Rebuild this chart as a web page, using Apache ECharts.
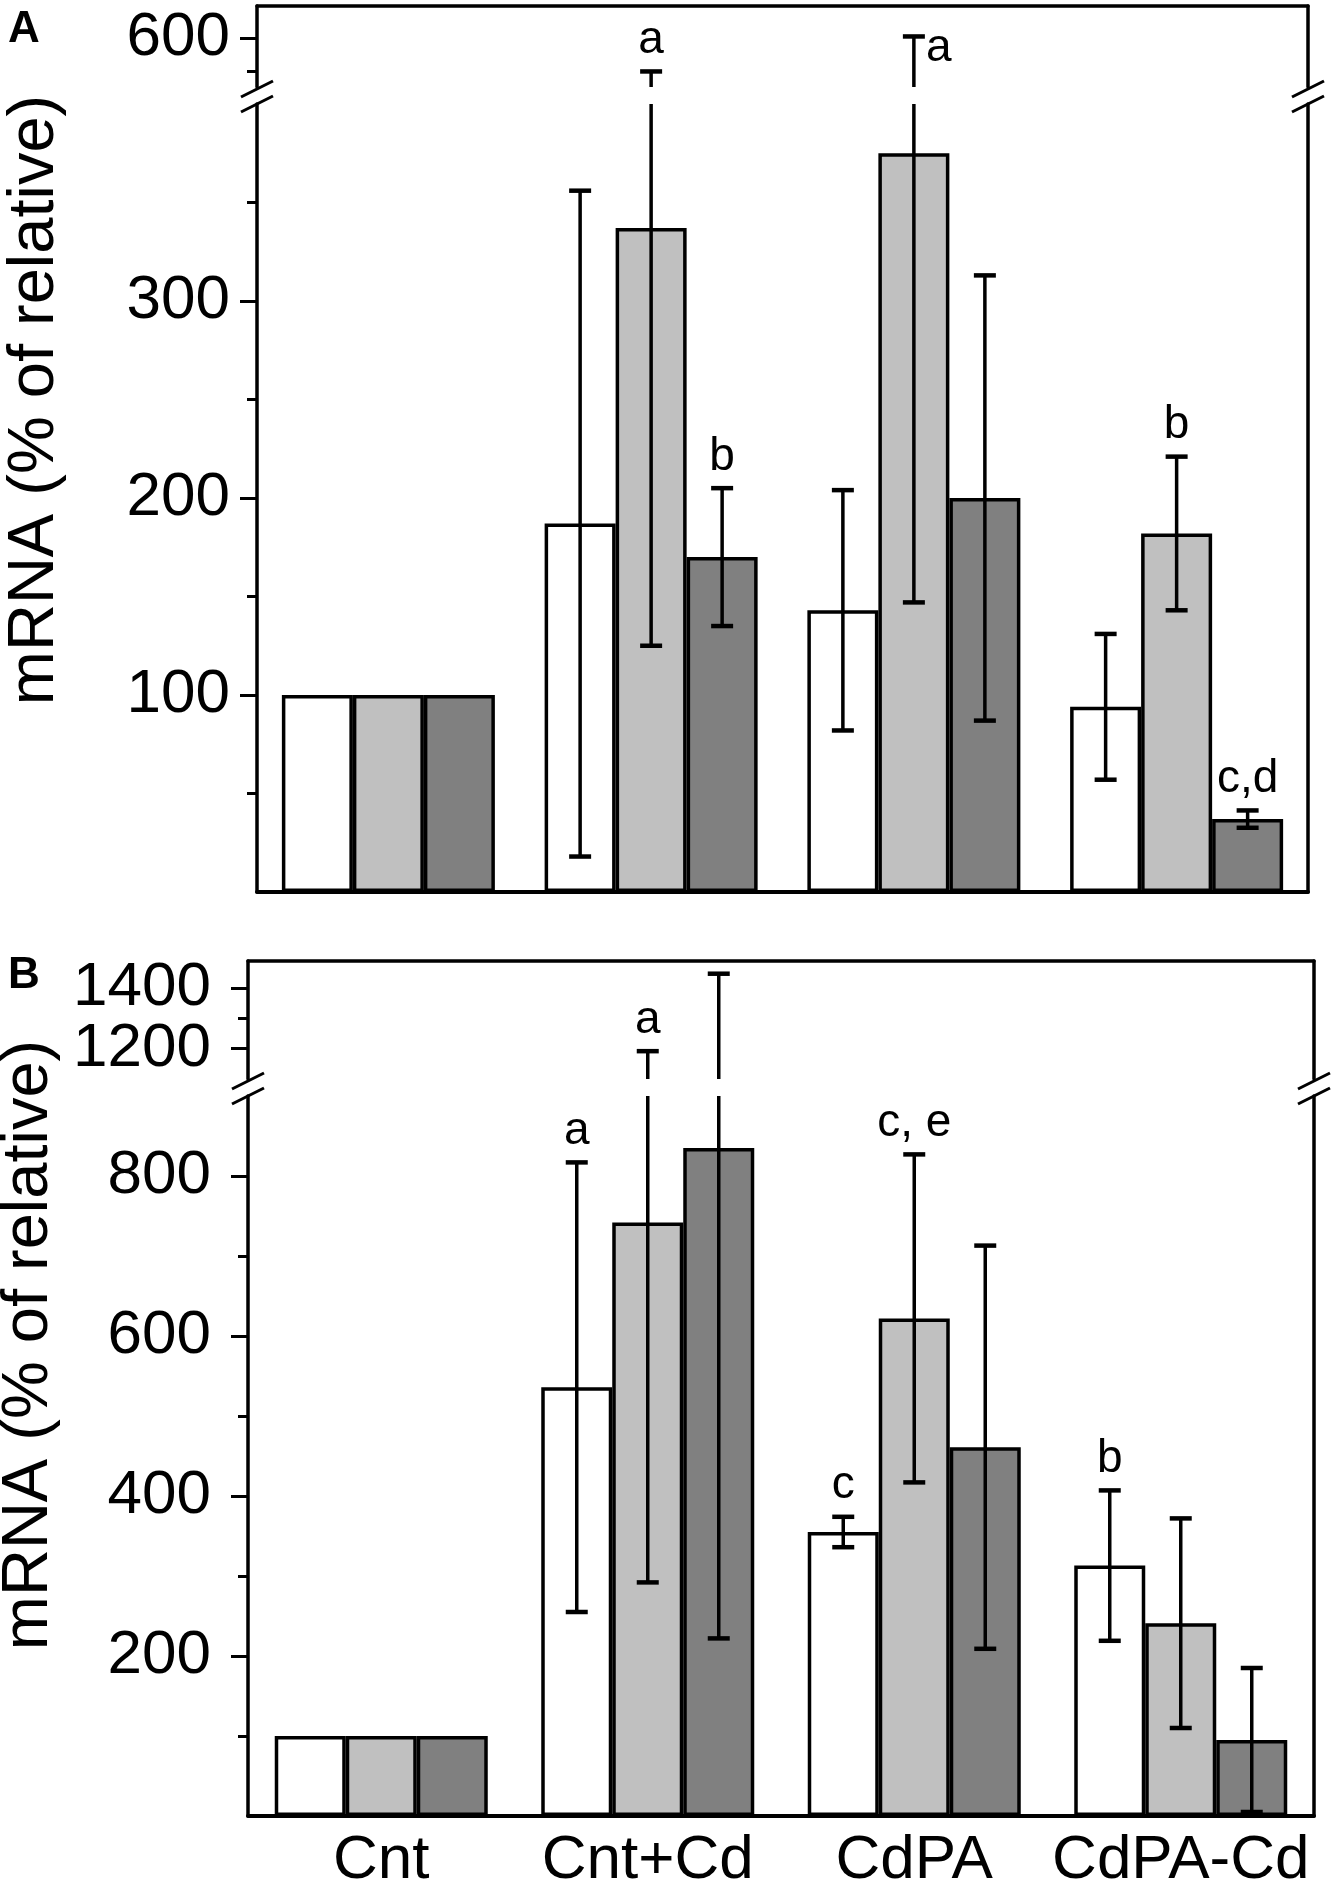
<!DOCTYPE html>
<html><head><meta charset="utf-8">
<script src="https://cdn.jsdelivr.net/npm/echarts@6/dist/echarts.min.js"></script>
<style>html,body{margin:0;padding:0;background:#fff}#c{width:1336px;height:1896px}</style>
</head><body><div id="c"></div>
<script>
// ---------- data ----------
const categories = ['Cnt', 'Cnt+Cd', 'CdPA', 'CdPA-Cd'];
// Panel A
const aWhite   = [100, 187, 143, 94];
const aWhiteSD = [0, 169, 61, 37];
const aLight   = [100, 337, 375, 182];
const aLightSD = [0, 212, 228, 39];
const aDark    = [100, 170, 200, 37];
const aDarkSD  = [0, 35, 113, 4.4];
const aWhiteNote = ['', '', '', ''];
const aLightNote = ['', 'a', 'a', 'b'];
const aDarkNote  = ['', 'b', '', 'c,d'];
// Panel B
const bWhite   = [100, 536, 355, 313];
const bWhiteSD = [0, 281, 19, 94];
const bLight   = [100, 742, 622, 241];
const bLightSD = [0, 450, 205, 131];
const bDark    = [100, 835, 461, 95];
const bDarkSD  = [0, 613, 252, 90];
const bWhiteNote = ['', 'a', 'c', 'b'];
const bLightNote = ['', 'a', 'c, e', ''];
const bDarkNote  = ['', '', '', ''];
// broken-axis segments and tick labels
const aLowerRange = [0, 400],  aUpperRange = [525, 650];
const bLowerRange = [0, 900],  bUpperRange = [1100, 1490];
const aLowerTicks = [100, 200, 300],       aLowerMinor = [50, 150, 250, 350];
const aUpperTicks = [600],                 aUpperMinor = [550];
const bLowerTicks = [200, 400, 600, 800],  bLowerMinor = [100, 300, 500, 700];
const bUpperTicks = [1200, 1400],          bUpperMinor = [1300];
const yTitle = 'mRNA (% of relative)';

// ---------- layout / style ----------
const FONT = '"Liberation Sans", Arial, Helvetica, sans-serif';
const BAR_W = 71;
const LW = 3.5;
const COLORS = ['#ffffff', '#c0c0c0', '#808080'];
const GRIDS = [
  {left: 257, right: 28, top: 6,    height: 81},   // A upper
  {left: 257, right: 28, top: 104,  height: 788},  // A lower
  {left: 248, right: 22, top: 961,  height: 118},  // B upper
  {left: 248, right: 22, top: 1096, height: 720}   // B lower
];

function xAxisFor(gi, pos, showLabels) {
  return {
    type: 'category', gridIndex: gi, data: categories, position: pos,
    axisLine: {show: true, onZero: false, lineStyle: {color: '#000', width: pos === 'bottom' ? 4 : LW}},
    axisTick: {show: false},
    axisLabel: {show: showLabels, interval: 0, hideOverlap: false, color: '#000', fontSize: 62, fontFamily: FONT, margin: 14},
    splitLine: {show: false}
  };
}
// y axes of one grid segment: frame line + minor ticks, one labelled axis per major tick, right frame
const yAxes = [];
const yMainIndex = [];
function addYAxes(gi, range, ticks, minor, labelMargin) {
  const base = {type: 'value', gridIndex: gi, min: range[0], max: range[1], splitLine: {show: false}};
  yMainIndex[gi] = yAxes.length;
  yAxes.push(Object.assign({}, base, {
    position: 'left',
    axisLine: {show: true, onZero: false, lineStyle: {color: '#000', width: LW}},
    axisTick: {show: true, length: 10, customValues: minor, lineStyle: {color: '#000', width: 3}},
    axisLabel: {show: false}
  }));
  ticks.forEach(t => {
    yAxes.push(Object.assign({}, base, {
      position: 'left',
      axisLine: {show: false},
      axisTick: {show: true, length: 17, customValues: [t], lineStyle: {color: '#000', width: 3}},
      axisLabel: {show: true, customValues: [t], hideOverlap: false, formatter: v => String(v),
        color: '#000', fontSize: 62, fontFamily: FONT, margin: labelMargin}
    }));
  });
  yAxes.push(Object.assign({}, base, {
    position: 'right',
    axisLine: {show: true, onZero: false, lineStyle: {color: '#000', width: LW}},
    axisTick: {show: false},
    axisLabel: {show: false}
  }));
}
addYAxes(0, aUpperRange, aUpperTicks, aUpperMinor, 27);
addYAxes(1, aLowerRange, aLowerTicks, aLowerMinor, 27);
addYAxes(2, bUpperRange, bUpperTicks, bUpperMinor, 37);
addYAxes(3, bLowerRange, bLowerTicks, bLowerMinor, 37);

function barSeries(gi, values, ci) {
  return {
    type: 'bar', xAxisIndex: gi, yAxisIndex: yMainIndex[gi], data: values,
    barWidth: BAR_W, barGap: '0%', z: 2, silent: true,
    itemStyle: {color: COLORS[ci], borderColor: '#000', borderWidth: LW}
  };
}

function errSeries(gi, values, sds, notes, ci, range, isUpper) {
  const off = (ci - 1) * BAR_W;
  return {
    type: 'custom', xAxisIndex: gi, yAxisIndex: yMainIndex[gi], z: 5, clip: false, silent: true,
    data: values.map((v, i) => [i, v, sds[i]]),
    encode: {x: 0, y: 1},
    renderItem: function (params, api) {
      const i = api.value(0), v = api.value(1), sd = api.value(2);
      if (!sd) return null;
      const lo = v - sd, hi = v + sd;
      const cs = params.coordSys;
      const x = api.coord([i, v])[0] + off;
      const Y = (val) => api.coord([i, val])[1];
      const ls = {stroke: '#000', lineWidth: LW};
      const cap = (y) => ({type: 'line', shape: {x1: x - 11, y1: y, x2: x + 11, y2: y}, style: {stroke: '#000', lineWidth: 4.5}});
      const children = [];
      let topY = null;
      if (isUpper) {
        if (hi <= range[0]) return null;
        topY = Y(hi);
        children.push({type: 'line', shape: {x1: x, y1: Y(range[0]), x2: x, y2: topY}, style: ls});
        children.push(cap(topY));
      } else {
        const yTop = Y(Math.min(hi, range[1]));
        children.push({type: 'line', shape: {x1: x, y1: Y(Math.max(lo, range[0])), x2: x, y2: yTop}, style: ls});
        if (lo >= range[0]) children.push(cap(Y(lo)));
        if (hi <= range[1]) { topY = Y(hi); children.push(cap(topY)); }
      }
      const note = notes[i];
      if (note && topY !== null) {
        const fs = 46;
        if (topY - 12 - fs < cs.y) {
          children.push({type: 'text', x: x + 12, y: topY + 12,
            style: {text: note, fontSize: fs, fontFamily: FONT, fill: '#000', align: 'left', verticalAlign: 'middle'}});
        } else {
          children.push({type: 'text', x: x, y: topY - 8,
            style: {text: note, fontSize: fs, fontFamily: FONT, fill: '#000', align: 'center', verticalAlign: 'bottom'}});
        }
      }
      return {type: 'group', children: children};
    }
  };
}

function breakMarks(g1, g2) {
  const gapTop = g1.top + g1.height, gapBot = g2.top;
  const xs = [g1.left, 1336 - g1.right];
  const out = [];
  xs.forEach(xc => {
    out.push({type: 'line', shape: {x1: xc - 16, y1: gapTop + 10, x2: xc + 16, y2: gapTop - 6}, style: {stroke: '#000', lineWidth: 3}});
    out.push({type: 'line', shape: {x1: xc - 16, y1: gapBot + 8, x2: xc + 16, y2: gapBot - 8}, style: {stroke: '#000', lineWidth: 3}});
  });
  return out;
}

const chart = echarts.init(document.getElementById('c'), null, {renderer: 'canvas'});
const option = {
  backgroundColor: '#fff',
  animation: false,
  grid: GRIDS.map(g => Object.assign({containLabel: false, outerBoundsMode: 'none'}, g)),
  xAxis: [
    xAxisFor(0, 'top', false),
    xAxisFor(1, 'bottom', false),
    xAxisFor(2, 'top', false),
    xAxisFor(3, 'bottom', true)
  ],
  yAxis: yAxes,
  series: [
    barSeries(1, aWhite, 0), barSeries(1, aLight, 1), barSeries(1, aDark, 2),
    errSeries(1, aWhite, aWhiteSD, aWhiteNote, 0, aLowerRange, false),
    errSeries(1, aLight, aLightSD, aLightNote, 1, aLowerRange, false),
    errSeries(1, aDark,  aDarkSD,  aDarkNote,  2, aLowerRange, false),
    errSeries(0, aWhite, aWhiteSD, aWhiteNote, 0, aUpperRange, true),
    errSeries(0, aLight, aLightSD, aLightNote, 1, aUpperRange, true),
    errSeries(0, aDark,  aDarkSD,  aDarkNote,  2, aUpperRange, true),
    barSeries(3, bWhite, 0), barSeries(3, bLight, 1), barSeries(3, bDark, 2),
    errSeries(3, bWhite, bWhiteSD, bWhiteNote, 0, bLowerRange, false),
    errSeries(3, bLight, bLightSD, bLightNote, 1, bLowerRange, false),
    errSeries(3, bDark,  bDarkSD,  bDarkNote,  2, bLowerRange, false),
    errSeries(2, bWhite, bWhiteSD, bWhiteNote, 0, bUpperRange, true),
    errSeries(2, bLight, bLightSD, bLightNote, 1, bUpperRange, true),
    errSeries(2, bDark,  bDarkSD,  bDarkNote,  2, bUpperRange, true)
  ],
  graphic: [].concat(
    breakMarks(GRIDS[0], GRIDS[1]),
    breakMarks(GRIDS[2], GRIDS[3]),
    [
      {type: 'text', x: 8, y: 8, style: {text: 'A', font: 'bold 44px "Liberation Sans", Arial, sans-serif', fill: '#000', align: 'left', verticalAlign: 'top'}},
      {type: 'text', x: 8, y: 954, style: {text: 'B', font: 'bold 44px "Liberation Sans", Arial, sans-serif', fill: '#000', align: 'left', verticalAlign: 'top'}},
      {type: 'text', x: 35, y: 400, rotation: Math.PI / 2, style: {text: yTitle, fontSize: 65, fontFamily: FONT, fill: '#000', align: 'center', verticalAlign: 'middle'}},
      {type: 'text', x: 29, y: 1345, rotation: Math.PI / 2, style: {text: yTitle, fontSize: 65, fontFamily: FONT, fill: '#000', align: 'center', verticalAlign: 'middle'}}
    ]
  )
};
chart.setOption(option);
</script>
</body></html>
